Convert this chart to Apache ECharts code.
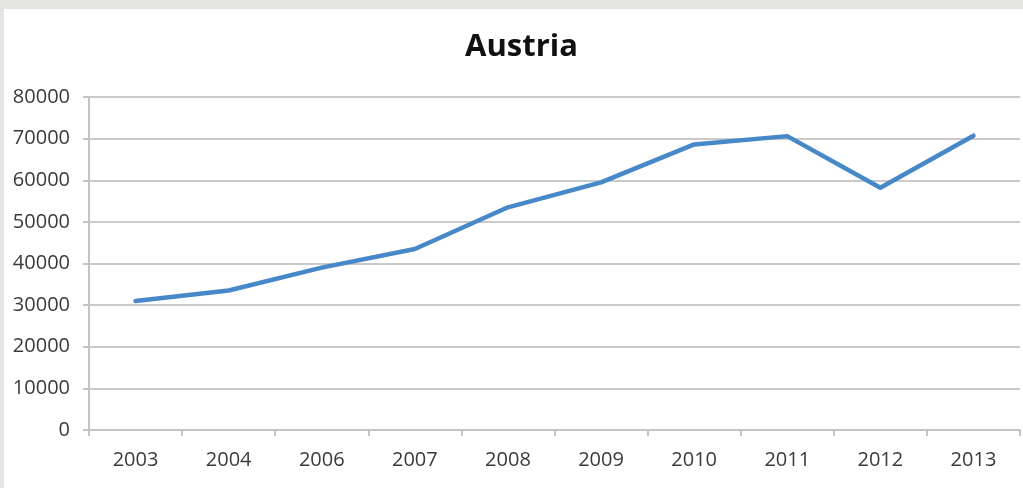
<!DOCTYPE html>
<html>
<head>
<meta charset="utf-8">
<script src="https://cdn.jsdelivr.net/npm/echarts@6/dist/echarts.min.js"></script>
<style>
  html, body { margin: 0; padding: 0; background: #e4e4e2; }
  #wrap { position: absolute; left: 0; top: 0; width: 1023px; height: 488px; overflow: hidden; }
  #paper { position: absolute; left: 4px; top: 9px; width: 1019px; height: 479px; background: #ffffff; }
  #chart { position: absolute; left: 0; top: 0; width: 1023px; height: 488px; }
</style>
</head>
<body>
<div id="wrap">
  <div id="paper"></div>
  <div id="chart"></div>
</div>
<script>
const titleText = "Austria";
const categories = ["2003", "2004", "2006", "2007", "2008", "2009", "2010", "2011", "2012", "2013"];
const values = [31000, 33500, 39000, 43500, 53500, 59500, 68600, 70600, 58200, 70700];
const yMin = 0;
const yMax = 80000;
const yStep = 10000;

const chart = echarts.init(document.getElementById('chart'), null, { renderer: 'canvas' });
chart.setOption({
  backgroundColor: 'transparent',
  animation: false,
  title: {
    text: titleText,
    left: 460,
    top: 27,
    textStyle: { fontFamily: 'Open Sans', fontWeight: 'bold', fontSize: 31, color: '#111111' }
  },
  grid: { left: 89, right: 3, top: 97, bottom: 58, containLabel: false },
  xAxis: {
    type: 'category',
    data: categories,
    boundaryGap: true,
    axisLine: { show: true, lineStyle: { color: '#c4c4c4', width: 2 } },
    axisTick: { show: true, length: 6, inside: false, alignWithLabel: false, lineStyle: { color: '#c4c4c4', width: 2 } },
    axisLabel: { margin: 20, fontFamily: 'Open Sans', fontSize: 20, color: '#3a3a3a' },
    splitLine: { show: false }
  },
  yAxis: {
    type: 'value',
    min: yMin,
    max: yMax,
    interval: yStep,
    axisLine: { show: true, lineStyle: { color: '#c4c4c4', width: 2 } },
    axisTick: { show: true, length: 6, inside: false, lineStyle: { color: '#c4c4c4', width: 2 } },
    axisLabel: { margin: 19, fontFamily: 'Open Sans', fontSize: 20, color: '#3a3a3a', formatter: function (v) { return String(v); } },
    splitLine: { show: true, lineStyle: { color: '#cacaca', width: 2 } }
  },
  series: [{
    type: 'line',
    data: values,
    showSymbol: false,
    symbol: 'none',
    lineStyle: { color: '#4788c9', width: 4.5, cap: 'round', join: 'round' },
    itemStyle: { color: '#4788c9' }
  }]
});
</script>
</body>
</html>
